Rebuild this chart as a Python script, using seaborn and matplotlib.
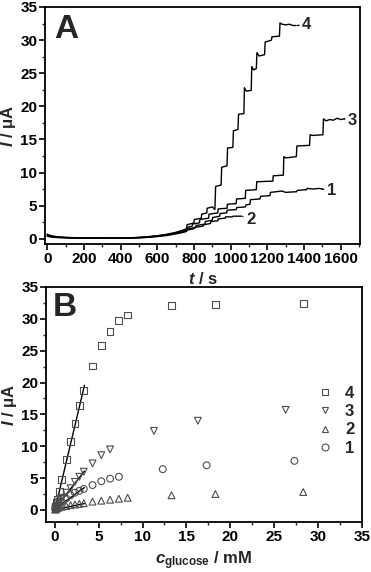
import numpy as np
import pandas as pd
import matplotlib
matplotlib.use("Agg")
import matplotlib.pyplot as plt
from matplotlib.ticker import MultipleLocator
from matplotlib.lines import Line2D
import seaborn as sns

# ---------------- Panel A data: current vs time traces ----------------
t1 = [0, 10, 30, 60, 100, 150, 200, 300, 400, 450, 500, 550, 600, 650, 700, 740,
      760, 762, 810, 812, 860, 862, 900, 902, 940, 942, 978, 981, 1030, 1033, 1080, 1083,
      1105, 1108, 1160, 1163, 1214, 1217, 1280, 1300, 1360, 1363, 1414, 1417, 1450, 1480, 1500]
I1 = [0.5, 0.4, 0.3, 0.22, 0.16, 0.12, 0.1, 0.08, 0.08, 0.1, 0.16, 0.25, 0.38, 0.55, 0.8, 1.05,
      1.2, 1.5, 1.7, 2.0, 2.2, 2.6, 2.8, 3.2, 3.4, 3.8, 3.9, 4.3, 4.4, 4.7, 4.8, 5.1,
      5.2, 5.9, 6.0, 6.4, 6.5, 7.0, 7.2, 7.0, 7.1, 7.3, 7.4, 7.6, 7.5, 7.6, 7.5]

t2 = [0, 10, 30, 60, 100, 150, 200, 300, 400, 450, 500, 550, 600, 650, 700, 740,
      760, 762, 800, 802, 850, 852, 890, 892, 930, 932, 970, 972, 1010, 1012, 1060]
I2 = [0.4, 0.3, 0.22, 0.16, 0.12, 0.1, 0.08, 0.06, 0.06, 0.08, 0.13, 0.2, 0.32, 0.48, 0.72, 0.95,
      1.1, 1.3, 1.5, 1.7, 1.9, 2.1, 2.3, 2.6, 2.7, 3.0, 3.1, 3.3, 3.3, 3.4, 3.4]

t3 = [0, 10, 30, 60, 100, 150, 200, 300, 400, 450, 500, 550, 600, 650, 700, 740,
      760, 762, 790, 792, 830, 832, 880, 882, 930, 932, 980, 982, 1030, 1032, 1080, 1082,
      1140, 1142, 1230, 1232, 1287, 1290, 1300, 1358, 1361, 1430, 1433, 1445, 1503, 1506,
      1520, 1540, 1560, 1580, 1600, 1620]
I3 = [0.6, 0.45, 0.33, 0.24, 0.18, 0.13, 0.11, 0.09, 0.09, 0.12, 0.18, 0.28, 0.42, 0.62, 0.9, 1.2,
      1.4, 1.7, 1.9, 2.2, 2.4, 2.9, 3.1, 3.7, 3.9, 4.5, 4.6, 5.2, 5.3, 6.0, 6.1, 7.3,
      7.4, 8.6, 8.7, 9.5, 9.6, 12.4, 12.2, 12.4, 14.0, 14.1, 15.7, 15.6, 15.7, 18.1,
      17.8, 18.0, 17.9, 18.2, 18.0, 18.1]

t4 = [0, 10, 30, 60, 100, 150, 200, 300, 400, 450, 500, 550, 600, 650, 700, 740,
      760, 762, 800, 802, 840, 842, 870, 872, 900, 914, 918, 948, 951, 980, 983, 1012, 1015,
      1040, 1043, 1072, 1075, 1085, 1112, 1115, 1125, 1140, 1143, 1155, 1185, 1188,
      1222, 1225, 1266, 1269, 1280, 1300, 1320, 1340, 1355]
I4 = [0.7, 0.55, 0.4, 0.28, 0.2, 0.15, 0.12, 0.1, 0.1, 0.13, 0.2, 0.3, 0.45, 0.65, 0.95, 1.3,
      1.5, 2.1, 2.4, 2.9, 3.1, 3.7, 3.9, 4.6, 4.8, 4.4, 7.9, 8.1, 10.8, 11.0, 13.7, 13.8, 16.3,
      16.5, 18.8, 18.9, 22.8, 22.3, 22.4, 26.0, 25.5, 25.7, 28.1, 27.6, 27.8, 29.7,
      30.0, 30.5, 30.6, 32.6, 32.4, 32.3, 32.4, 32.2, 32.2]

trace_labels = ["1", "2", "3", "4"]
label_pos_t = [1525, 1085, 1640, 1390]
label_pos_I = [7.3, 2.9, 17.9, 32.3]

# ---------------- Panel B data: calibration ----------------
c1 = [0.05, 0.1, 0.2, 0.3, 0.5, 0.8, 1.3, 1.8, 2.3, 2.8, 3.3, 4.3, 5.3, 6.3, 7.3, 12.3, 17.3, 27.3]
B1 = [0.1, 0.2, 0.4, 0.6, 0.9, 1.3, 1.8, 2.3, 2.7, 3.0, 3.3, 3.9, 4.5, 4.9, 5.2, 6.4, 7.0, 7.7]
c2 = [0.05, 0.1, 0.2, 0.3, 0.5, 0.8, 1.3, 1.8, 2.3, 2.8, 3.3, 4.3, 5.3, 6.3, 7.3, 8.3, 13.3, 18.3, 28.3]
B2 = [0.05, 0.1, 0.2, 0.3, 0.4, 0.5, 0.6, 0.75, 0.85, 0.95, 1.05, 1.3, 1.45, 1.6, 1.75, 1.9, 2.3, 2.5, 2.8]
c3 = [0.05, 0.1, 0.2, 0.3, 0.5, 0.8, 1.3, 1.8, 2.3, 2.8, 3.3, 4.3, 5.3, 6.3, 11.3, 16.3, 26.3]
B3 = [0.1, 0.3, 0.6, 0.9, 1.3, 1.9, 2.7, 3.4, 4.4, 5.2, 6.0, 7.3, 8.6, 9.5, 12.4, 14.0, 15.7]
c4 = [0.05, 0.1, 0.2, 0.3, 0.5, 0.8, 1.3, 1.8, 2.3, 2.8, 3.3, 4.3, 5.3, 6.3, 7.3, 8.3, 13.3, 18.3, 28.3]
B4 = [0.3, 0.6, 1.1, 1.7, 2.9, 4.8, 7.9, 10.8, 13.6, 16.4, 18.8, 22.6, 25.8, 28.0, 29.7, 30.6, 32.1, 32.3, 32.4]
linear_limit = 3.3
series_names = ["1", "2", "3", "4"]
series_markers = ["o", "^", "v", "s"]

# ---------------- Style ----------------
sns.set_style("ticks")
plt.rcParams["font.family"] = ["Liberation Sans", "DejaVu Sans"]
plt.rcParams["font.weight"] = "bold"
plt.rcParams["mathtext.fontset"] = "custom"
plt.rcParams["mathtext.it"] = "Liberation Sans:italic:bold"
plt.rcParams["mathtext.rm"] = "Liberation Sans:bold"
plt.rcParams["mathtext.bf"] = "Liberation Sans:bold"

W, H = 371, 572
fig = plt.figure(figsize=(W / 100, H / 100), dpi=100)


def px_axes(l, t, r, b):
    return fig.add_axes([l / W, 1 - b / H, (r - l) / W, (b - t) / H])


axA = px_axes(45, 7, 360, 244)
axB = px_axes(46, 287, 362, 522)


def style_axis(ax):
    for s in ax.spines.values():
        s.set_linewidth(1.3)
        s.set_color("black")
    ax.tick_params(which="major", direction="out", length=4, width=1.2, labelsize=11,
                   pad=1.5, top=False, right=False, colors="black")
    ax.tick_params(which="minor", direction="out", length=2.2, width=1.0, top=False, right=False)
    for lab in ax.get_xticklabels() + ax.get_yticklabels():
        lab.set_fontweight("bold")


# ---------------- Panel A ----------------
traces = [(t1, I1), (t2, I2), (t3, I3), (t4, I4)]
for (tt, ii) in traces:
    df = pd.DataFrame({"t": tt, "I": ii})
    sns.lineplot(data=df, x="t", y="I", ax=axA, color="black", lw=1.0,
                 sort=False, estimator=None)

for k, (tt, ii) in enumerate(traces):
    axA.annotate(trace_labels[k], xy=(tt[-1], ii[-1]), xytext=(label_pos_t[k], label_pos_I[k]),
                 fontsize=12, fontweight="bold", va="center", ha="left",
                 arrowprops=dict(arrowstyle="-", lw=1.0, color="black",
                                 shrinkA=0, shrinkB=1))

axA.set_xlim(-12, 1705)
axA.set_ylim(-0.8, 35)
axA.xaxis.set_major_locator(MultipleLocator(200))
axA.xaxis.set_minor_locator(MultipleLocator(100))
axA.yaxis.set_major_locator(MultipleLocator(5))
axA.yaxis.set_minor_locator(MultipleLocator(2.5))
style_axis(axA)
axA.set_xlabel(r"$\mathit{t}$ / s", fontsize=12, fontweight="bold")
axA.set_ylabel(r"$\mathit{I}$ / μA", fontsize=12, fontweight="bold")
axA.xaxis.set_label_coords(0.5, -0.115)
axA.yaxis.set_label_coords(-0.085, 0.5)
axA.text(0.028, 0.97, "A", transform=axA.transAxes, fontsize=24, fontweight="bold",
         va="top", ha="left")

# ---------------- Panel B ----------------
mcolor = "#4d4d4d"
calib = [(c1, B1), (c2, B2), (c3, B3), (c4, B4)]
for k, (cc, bb) in enumerate(calib):
    df = pd.DataFrame({"c": cc, "I": bb})
    sns.scatterplot(data=df, x="c", y="I", ax=axB, marker=series_markers[k], s=24,
                    facecolors="none", edgecolors=mcolor, linewidth=0.8, zorder=3)
    cc_a = np.array(cc)
    bb_a = np.array(bb)
    m = cc_a <= linear_limit
    slope, icpt = np.polyfit(cc_a[m], bb_a[m], 1)
    xs = np.array([-0.05, linear_limit + 0.08])
    axB.plot(xs, slope * xs + icpt - 0.15, color="black", lw=1.0, zorder=2)

axB.set_xlim(-1.0, 35)
axB.set_ylim(-1.9, 35)
axB.xaxis.set_major_locator(MultipleLocator(5))
axB.xaxis.set_minor_locator(MultipleLocator(2.5))
axB.yaxis.set_major_locator(MultipleLocator(5))
axB.yaxis.set_minor_locator(MultipleLocator(2.5))
style_axis(axB)
axB.set_xlabel(r"$\mathit{c}_{\mathrm{glucose}}$ / mM", fontsize=12, fontweight="bold")
axB.set_ylabel(r"$\mathit{I}$ / μA", fontsize=12, fontweight="bold")
axB.xaxis.set_label_coords(0.5, -0.115)
axB.yaxis.set_label_coords(-0.085, 0.5)
axB.text(0.022, 0.98, "B", transform=axB.transAxes, fontsize=24, fontweight="bold",
         va="top", ha="left")

handles = []
for k in [3, 2, 1, 0]:
    handles.append(Line2D([], [], ls="", marker=series_markers[k], markersize=5,
                          mfc="none", mec=mcolor, mew=0.8, label=series_names[k]))
leg = axB.legend(handles=handles, loc="upper left", bbox_to_anchor=(0.83, 0.615),
                 frameon=False, handlelength=1.0, handletextpad=0.7, labelspacing=0.2,
                 borderpad=0, prop={"weight": "bold", "size": 12})

fig.savefig("out.png", dpi=100)
